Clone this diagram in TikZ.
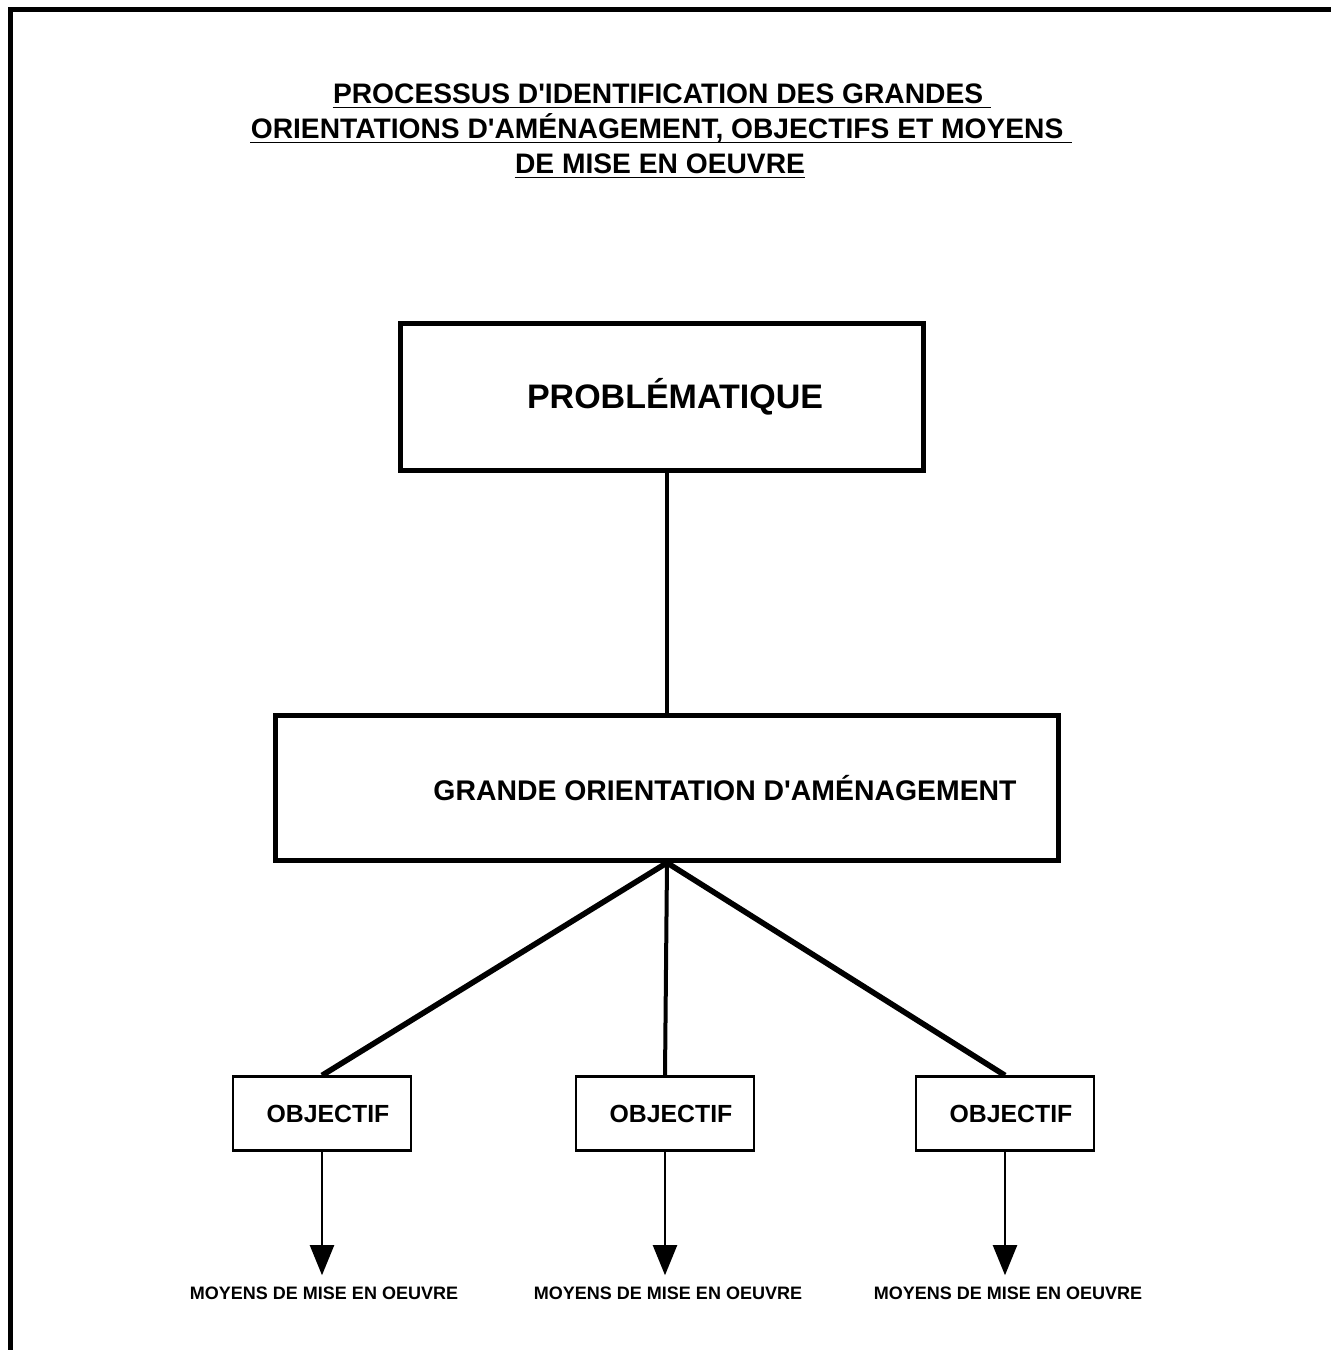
\documentclass[tikz,border=0pt]{standalone}
\usepackage{fontspec}
\setmainfont{Liberation Sans}
\usetikzlibrary{arrows.meta, positioning}

\begin{document}
\begin{tikzpicture}[x=0.5pt, y=-0.5pt, >={Triangle[width=12pt, length=15pt]},
    titre/.style={anchor=base, inner sep=0pt, font=\fontsize{14.1}{17.5}\selectfont\bfseries},
    souligne/.style={line width=0.9pt},
    grandbox/.style={draw, line width=2.5pt, inner sep=0pt},
    objbox/.style={draw, line width=1.1pt, minimum width=89pt, minimum height=37pt,
      font=\fontsize{12.4}{14}\selectfont\bfseries},
    moyen/.style={inner ysep=5.5pt, inner xsep=0pt, font=\fontsize{9}{10}\selectfont\bfseries}]
  \useasboundingbox (0,0) rectangle (1330,1350);

  % cadre de la page
  \draw[line width=2.5pt] (10.5,1360) -- (10.5,9.5) -- (1340,9.5);

  % titre
  \node (T1) [titre] at (662,103.3) {PROCESSUS D\textquotesingle IDENTIFICATION DES GRANDES\hspace*{3.9pt}};
  \node (T2) [titre] at (661,138.3) {ORIENTATIONS D\textquotesingle AMÉNAGEMENT, OBJECTIFS ET MOYENS\hspace*{3.9pt}};
  \node (T3) [titre] at (660,173.3) {DE MISE EN OEUVRE};
  \foreach \t in {T1,T2,T3}
    \draw[souligne] ([yshift=-2.1pt]\t.base west) -- ([yshift=-2.1pt]\t.base east);

  \node (prob) [grandbox, minimum width=261.5pt, minimum height=73.5pt,
    font=\fontsize{17}{20}\selectfont\bfseries] at (661.5,396.5)
    {\hspace*{13.5pt}PROBLÉMATIQUE};
  \node (gdo) [grandbox, minimum width=391.5pt, minimum height=72.25pt,
    font=\fontsize{14.2}{16}\selectfont\bfseries] at (667,788)
    {\hspace*{58pt}GRANDE ORIENTATION D\textquotesingle AMÉNAGEMENT};

  \node (obj1) [objbox] at (322,1113.5) {\hspace*{6pt}OBJECTIF};
  \node (obj2) [objbox] at (665,1113.5) {\hspace*{6pt}OBJECTIF};
  \node (obj3) [objbox] at (1005,1113.5) {\hspace*{6pt}OBJECTIF};

  \node (moy1) [moyen] at (324,1293) {MOYENS DE MISE EN OEUVRE};
  \node (moy2) [moyen] at (668,1293) {MOYENS DE MISE EN OEUVRE};
  \node (moy3) [moyen] at (1008,1293) {MOYENS DE MISE EN OEUVRE};

  \draw[line width=2pt] (prob.south -| gdo.north) -- (gdo.north);
  \draw[line width=2.8pt] (gdo.south) -- (obj1.north);
  \draw[line width=2pt] (gdo.south) -- (obj2.north);
  \draw[line width=2.8pt] (gdo.south) -- (obj3.north);

  \draw[->, line width=1pt] (obj1) -- (obj1 |- moy1.north);
  \draw[->, line width=1pt] (obj2) -- (obj2 |- moy2.north);
  \draw[->, line width=1pt] (obj3) -- (obj3 |- moy3.north);
\end{tikzpicture}
\end{document}
